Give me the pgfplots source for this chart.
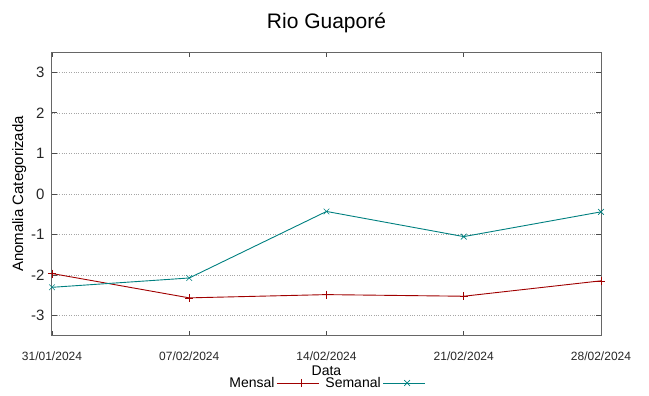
\documentclass[border=0pt]{standalone}
\usepackage{fontspec}
\setmainfont{Liberation Sans}
\usepackage{pgfplots}
\pgfplotsset{compat=1.18}
\definecolor{mred}{RGB}{160,0,0}
\definecolor{steal}{RGB}{0,128,128}
\begin{document}
\begin{tikzpicture}[x=1pt,y=1pt]
\begin{axis}[
  at={(0pt,0pt)}, anchor=south west,
  scale only axis, width=549pt, height=284pt,
  xmin=0, xmax=4, ymin=-3.5, ymax=3.5,
  xtick={0,1,2,3,4},
  xticklabels={31/01/2024,07/02/2024,14/02/2024,21/02/2024,28/02/2024},
  ytick={-3,-2,-1,0,1,2,3},
  tick align=inside,
  major tick length=5pt,
  axis line style={draw=black!60, line width=1pt},
  every tick/.style={black!70, line width=0.8pt},
  ymajorgrids,
  major grid style={black!35, dotted, line width=0.5pt},
  yticklabel style={font=\fontsize{15}{15}\selectfont, text=black!85, xshift=-4pt},
  xticklabel style={font=\fontsize{12}{12}\selectfont, text=black!85, yshift=-12pt},
  /pgf/number format/assume math mode=true,
  ylabel={Anomalia Categorizada},
  ylabel style={font=\fontsize{15}{15}\selectfont, yshift=-2pt},
  xlabel={Data},
  xlabel style={font=\fontsize{14}{14}\selectfont, yshift=1pt},
  title={Rio Guaporé},
  title style={font=\fontsize{21}{21}\selectfont, yshift=10pt},
  legend columns=2,
  legend plot pos=right,
  legend style={draw=none, fill=none, at={(0.5,-47pt)}, anchor=center,
    font=\fontsize{14}{14}\selectfont, /tikz/every even column/.append style={column sep=4pt}},
  legend image code/.code={\path (0pt,0pt) -- (42pt,0pt); \draw[#1] (6pt,0pt) -- (24pt,0pt); \draw[#1, only marks] plot coordinates {(24pt,0pt)}; \draw[#1] (24pt,0pt) -- (42pt,0pt);},
]
\addplot[color=mred, line width=0.9pt, mark=+, mark size=4pt, mark options={solid,line width=0.6pt}] coordinates {
(0,-1.96) (1,-2.56) (2,-2.48) (3,-2.52) (4,-2.14)};
\addlegendentry{Mensal}
\addplot[color=steal, line width=0.9pt, mark=x, mark size=4pt, mark options={solid,line width=0.6pt}] coordinates {
(0,-2.30) (1,-2.07) (2,-0.43) (3,-1.05) (4,-0.44)};
\addlegendentry{Semanal}
\end{axis}
\path[use as bounding box] (-52pt,-60pt) rectangle (597pt,336pt);
\end{tikzpicture}
\end{document}
